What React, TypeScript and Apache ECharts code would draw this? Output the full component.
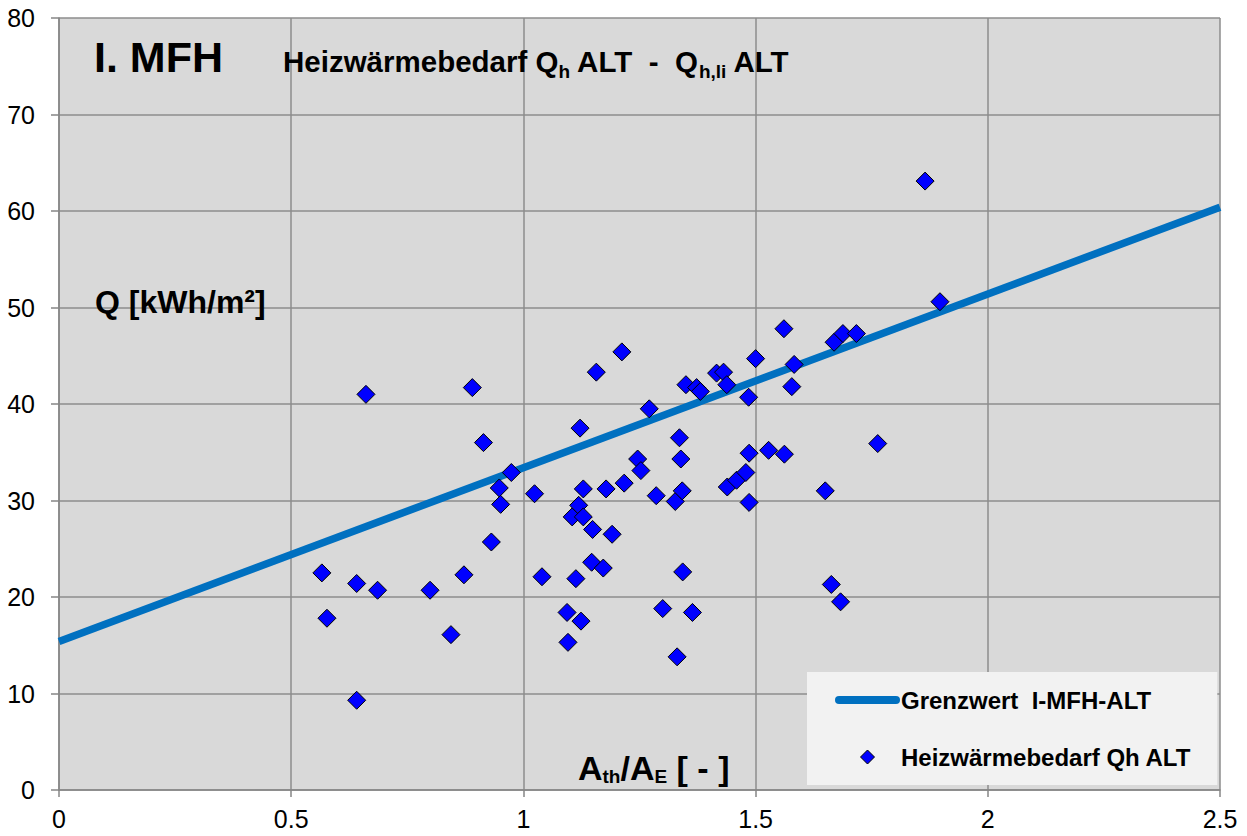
import React, { useEffect, useRef } from "react";
import * as echarts from "echarts";

const FONT = "'Liberation Sans', Arial, Helvetica, sans-serif";

// axis ticks
const xTicks = [0, 0.5, 1, 1.5, 2, 2.5];
const yTicks = [0, 10, 20, 30, 40, 50, 60, 70, 80];

// limit line (Grenzwert)
const limitName = "Grenzwert  I-MFH-ALT";
const limitX = [0, 2.5];
const limitY = [15.4, 60.4];

// measured buildings
const pointsName = "Heizwärmebedarf Qh ALT";
const ratioValues = [
  0.566, 0.577, 0.641, 0.641, 0.661, 0.686, 0.799, 0.844, 0.872, 0.89,
  0.914, 0.931, 0.948, 0.951, 0.974, 1.024, 1.04, 1.094, 1.096, 1.105,
  1.113, 1.119, 1.122, 1.124, 1.129, 1.129, 1.149, 1.147, 1.157, 1.172,
  1.178, 1.191, 1.212, 1.217, 1.246, 1.253, 1.271, 1.286, 1.3, 1.327,
  1.331, 1.336, 1.339, 1.342, 1.343, 1.35, 1.364, 1.373, 1.381, 1.416,
  1.431, 1.438, 1.439, 1.459, 1.479, 1.485, 1.486, 1.486, 1.5, 1.528,
  1.561, 1.562, 1.578, 1.583, 1.65, 1.663, 1.669, 1.683, 1.688, 1.717,
  1.763, 1.865, 1.897,
];
const heatValues = [
  22.5, 17.8, 21.4, 9.3, 41.0, 20.7, 20.7, 16.1, 22.3, 41.7,
  36.0, 25.7, 31.3, 29.6, 32.9, 30.7, 22.1, 18.4, 15.3, 28.3,
  21.9, 29.5, 37.5, 17.5, 31.2, 28.3, 27.0, 23.6, 43.3, 23.0,
  31.2, 26.5, 45.4, 31.8, 34.3, 33.1, 39.5, 30.5, 18.8, 29.9,
  13.8, 36.5, 34.3, 31.0, 22.6, 42.0, 18.4, 41.7, 41.3, 43.2,
  43.3, 42.0, 31.4, 32.1, 32.9, 40.7, 34.9, 29.8, 44.7, 35.2,
  47.8, 34.8, 41.8, 44.1, 31.0, 21.3, 46.4, 19.5, 47.3, 47.3,
  35.9, 63.1, 50.6,
];

export default function App() {
  const ref = useRef<HTMLDivElement>(null);

  useEffect(() => {
    if (!ref.current) return;
    const chart = echarts.init(ref.current, null, { renderer: "svg" });

    const axisGray = "#868686";
    const gridGray = "#8C8C8C";

    const option: any = {
      animation: false,
      backgroundColor: "#FFFFFF",
      textStyle: { fontFamily: FONT },
      grid: {
        left: 59,
        right: 27,
        top: 18,
        bottom: 46,
        show: true,
        backgroundColor: "#D9D9D9",
        borderWidth: 0,
      },
      xAxis: {
        type: "value",
        min: xTicks[0],
        max: xTicks[xTicks.length - 1],
        interval: xTicks[1] - xTicks[0],
        axisLine: { show: true, onZero: false, lineStyle: { color: axisGray, width: 1.5 } },
        axisTick: { show: true, inside: false, length: 7, lineStyle: { color: axisGray, width: 1.5 } },
        axisLabel: {
          fontSize: 25,
          color: "#000",
          fontFamily: FONT,
          margin: 16,
          formatter: (v: number) => String(v),
        },
        splitLine: { show: true, lineStyle: { color: gridGray, width: 1.5 } },
      },
      yAxis: {
        type: "value",
        min: yTicks[0],
        max: yTicks[yTicks.length - 1],
        interval: yTicks[1] - yTicks[0],
        axisLine: { show: true, onZero: false, lineStyle: { color: axisGray, width: 1.5 } },
        axisTick: { show: true, inside: false, length: 8, lineStyle: { color: axisGray, width: 1.5 } },
        axisLabel: {
          fontSize: 25,
          color: "#000",
          fontFamily: FONT,
          margin: 24,
          formatter: (v: number) => String(v),
        },
        splitLine: { show: true, lineStyle: { color: gridGray, width: 1.5 } },
      },
      legend: {
        orient: "vertical",
        left: 807,
        top: 672,
        padding: [16, 26, 16, 28],
        itemWidth: 57,
        itemHeight: 14,
        itemGap: 33,
        symbolKeepAspect: true,
        backgroundColor: "#F2F2F2",
        textStyle: { fontSize: 24, fontWeight: "bold", color: "#000", fontFamily: FONT },
        lineStyle: { width: 8, cap: "round" },
        data: [
          {
            name: limitName,
            itemStyle: { color: "rgba(0,0,0,0)", borderColor: "rgba(0,0,0,0)", borderWidth: 0 },
          },
          {
            name: pointsName,
            icon: "path://M7,0 L14,7 L7,14 L0,7 Z",
            itemStyle: { color: "#0000FF", borderColor: "#000", borderWidth: 1 },
          },
        ],
      },
      graphic: [
        {
          type: "text",
          x: 94,
          y: 57,
          z: 5,
          style: {
            text: "I. MFH",
            fontSize: 43,
            fontWeight: "bold",
            fontFamily: FONT,
            fill: "#000",
            verticalAlign: "middle",
          },
        },
        {
          type: "text",
          x: 283,
          y: 42,
          z: 5,
          style: {
            text: "{m|Heizwärmebedarf Q}{s|h}{m| ALT  -  Q}{s|h,li}{m| ALT}",
            fontFamily: FONT,
            fill: "#000",
            verticalAlign: "top",
            rich: {
              m: { fontSize: 29.5, fontWeight: "bold", fontFamily: FONT, fill: "#000", lineHeight: 39, verticalAlign: "middle" },
              s: { fontSize: 19, fontWeight: "bold", fontFamily: FONT, fill: "#000", lineHeight: 19, verticalAlign: "bottom" },
            },
          },
        },
        {
          type: "text",
          x: 95,
          y: 302,
          z: 5,
          style: {
            text: "Q [kWh/m²]",
            fontSize: 32,
            fontWeight: "bold",
            fontFamily: FONT,
            fill: "#000",
            verticalAlign: "middle",
          },
        },
        {
          type: "text",
          x: 578,
          y: 750,
          z: 5,
          style: {
            text: "{m|A}{s|th}{m|/A}{s|E}{m| [ - ]}",
            fontFamily: FONT,
            fill: "#000",
            verticalAlign: "top",
            rich: {
              m: { fontSize: 34, fontWeight: "bold", fontFamily: FONT, fill: "#000", lineHeight: 36, verticalAlign: "middle" },
              s: { fontSize: 19, fontWeight: "bold", fontFamily: FONT, fill: "#000", lineHeight: 19, verticalAlign: "bottom" },
            },
          },
        },
      ],
      series: [
        {
          name: limitName,
          type: "line",
          data: limitX.map((x, i) => [x, limitY[i]]),
          symbol: "none",
          lineStyle: { color: "#0070C0", width: 7.5 },
          itemStyle: { color: "#0070C0" },
          z: 2,
        },
        {
          name: pointsName,
          type: "scatter",
          data: ratioValues.map((x, i) => [x, heatValues[i]]),
          symbol: "diamond",
          symbolSize: 18,
          itemStyle: { color: "#0000FF", borderColor: "#000", borderWidth: 1, opacity: 1 },
          z: 3,
        },
      ],
    };

    chart.setOption(option);
    return () => chart.dispose();
  }, []);

  return (
    <div
      ref={ref}
      style={{ position: "fixed", left: 0, top: 0, width: 1247, height: 836 }}
    />
  );
}
